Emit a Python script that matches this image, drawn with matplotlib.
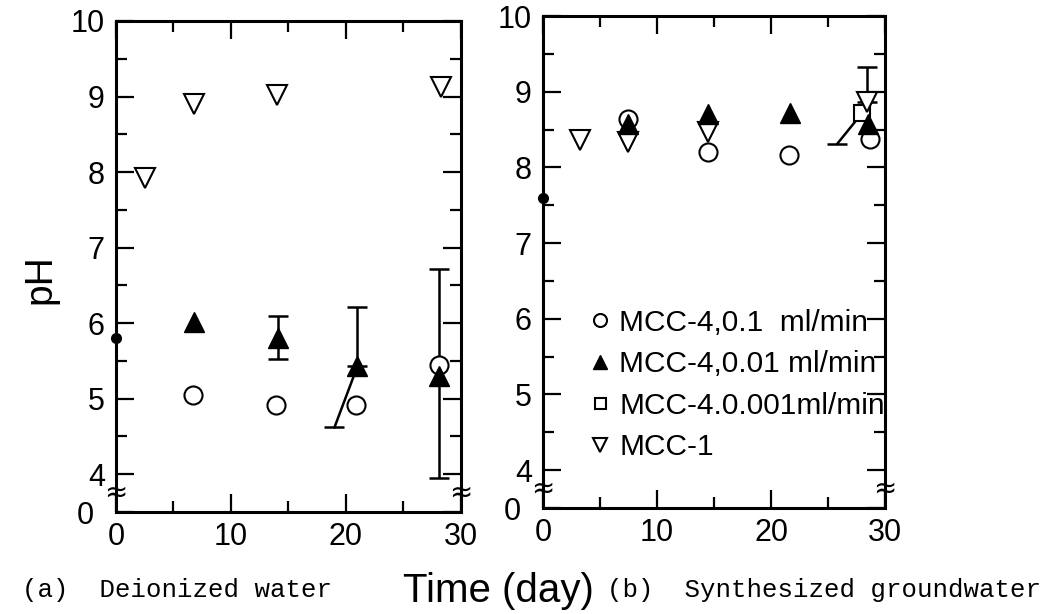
import numpy as np
import matplotlib
matplotlib.use("Agg")
import matplotlib.pyplot as plt
from matplotlib.transforms import ScaledTranslation, blended_transform_factory

# ── Data: (a) deionized water ─────────────────────────────
a_init_day, a_init_ph = [0], [5.8]
a_c01_day = [6.7, 13.9, 20.9, 28.1]          # MCC-4, 0.1 ml/min
a_c01_ph = [5.05, 4.92, 4.92, 5.45]
a_c001_day = [6.75, 14.1, 21.0, 28.1]        # MCC-4, 0.01 ml/min
a_c001_ph = [6.02, 5.8, 5.43, 5.3]
a_err_day = [14.1, 21.0, 28.1]
a_err_lo = [5.53, 5.43, 3.95]
a_err_hi = [6.1, 6.22, 6.72]
a_slant_from = (21.0, 5.43)
a_slant_to = (19.0, 4.62)
a_mcc1_day = [2.55, 6.75, 14.0, 28.3]        # MCC-1
a_mcc1_ph = [7.92, 8.9, 9.02, 9.12]

# ── Data: (b) synthesized groundwater ─────────────────────
b_init_day, b_init_ph = [0], [7.6]
b_c01_day = [7.45, 14.45, 21.6, 28.7]
b_c01_ph = [8.64, 8.2, 8.16, 8.38]
b_c001_day = [7.45, 14.45, 21.7, 28.5]
b_c001_ph = [8.58, 8.7, 8.72, 8.58]
b_c0001_day = [28.0]                          # MCC-4, 0.001 ml/min
b_c0001_ph = [8.72]
b_mcc1_day = [3.25, 7.45, 14.45, 28.4]
b_mcc1_ph = [8.36, 8.33, 8.47, 8.87]
b_err_day = [28.4]
b_err_lo = [8.87]
b_err_hi = [9.32]
b_slant_from = (28.0, 8.72)
b_slant_to = (25.8, 8.31)

labels = ["MCC-4,0.1  ml/min", "MCC-4,0.01 ml/min", "MCC-4.0.001ml/min", "MCC-1"]
yticks = [3.5, 4, 5, 6, 7, 8, 9, 10]
ytick_labels = ["0", "4", "5", "6", "7", "8", "9", "10"]

SANS = "Liberation Sans"
MONO = "Liberation Mono"

fig = plt.figure(figsize=(10.57, 6.14), dpi=100)
ax_a = fig.add_axes([0.1097, 0.1661, 0.3264, 0.7997])
ax_b = fig.add_axes([0.5137, 0.1726, 0.3236, 0.8013])

open_kw = dict(ls="none", mfc="white", mec="black", mew=1.5)
fill_kw = dict(ls="none", mfc="black", mec="black")


def style_axis(ax):
    ax.set_xlim(0, 30)
    ax.set_ylim(3.5, 10)
    ax.set_xticks([0, 10, 20, 30])
    ax.set_xticks([5, 15, 25], minor=True)
    ax.set_yticks(yticks)
    ax.set_yticks(np.arange(4.5, 10, 1.0), minor=True)
    ax.set_yticklabels(ytick_labels)
    ax.tick_params(which="both", direction="in", top=True, right=True, width=1.6)
    ax.tick_params(which="major", length=13)
    ax.tick_params(which="minor", length=8)
    ax.tick_params(axis="x", pad=7)
    ax.tick_params(axis="y", pad=8)
    for lab in ax.get_xticklabels() + ax.get_yticklabels():
        lab.set_fontfamily(SANS)
        lab.set_fontsize(22)
    first = ax.get_yticklabels()[0]
    first.set_transform(first.get_transform() + ScaledTranslation(-8 / 72, 0, fig.dpi_scale_trans))
    for s in ax.spines.values():
        s.set_linewidth(2.2)
    # axis break marks
    tr = blended_transform_factory(ax.transAxes, ax.transData)
    for xs in (0, 1):
        ax.text(xs, 3.76, "\u2248", transform=tr, ha="center", va="center",
                fontsize=20, family="DejaVu Sans", clip_on=False)


def slant(ax, p0, p1):
    ax.plot([p0[0], p1[0]], [p0[1], p1[1]], color="black", lw=1.8, zorder=2)
    ax.plot([p1[0]], [p1[1]], marker="_", ms=15, mew=1.8, color="black", ls="none", zorder=2)


# (a)
ax_a.errorbar(a_err_day, a_c001_ph[1:], yerr=[np.array(a_c001_ph[1:]) - a_err_lo,
              np.array(a_err_hi) - a_c001_ph[1:]], fmt="none", ecolor="black",
              elinewidth=1.8, capsize=7, capthick=1.8, zorder=2)
slant(ax_a, a_slant_from, a_slant_to)
ax_a.plot(a_init_day, a_init_ph, marker="o", ms=7, color="black", ls="none", clip_on=False, zorder=4)
ax_a.plot(a_c01_day, a_c01_ph, marker="o", ms=13, zorder=3, **open_kw)
ax_a.plot(a_c001_day, a_c001_ph, marker="^", ms=14, zorder=4, **fill_kw)
ax_a.plot(a_mcc1_day, a_mcc1_ph, marker="v", ms=14, zorder=3, **open_kw)
style_axis(ax_a)

# (b)
ax_b.errorbar(b_err_day, b_err_lo, yerr=[[0], np.array(b_err_hi) - b_err_lo], fmt="none",
              ecolor="black", elinewidth=1.8, capsize=7, capthick=1.8, zorder=2)
slant(ax_b, b_slant_from, b_slant_to)
ax_b.plot(b_init_day, b_init_ph, marker="o", ms=7, color="black", ls="none", clip_on=False, zorder=4)
h1, = ax_b.plot(b_c01_day, b_c01_ph, marker="o", ms=13, zorder=3, label=labels[0], **open_kw)
h3, = ax_b.plot(b_c0001_day, b_c0001_ph, marker="s", ms=11, zorder=3, label=labels[2], **open_kw)
h4, = ax_b.plot(b_mcc1_day, b_mcc1_ph, marker="v", ms=14, zorder=3.5, label=labels[3], **open_kw)
h2, = ax_b.plot(b_c001_day, b_c001_ph, marker="^", ms=14, zorder=4, label=labels[1], **fill_kw)
style_axis(ax_b)

leg = ax_b.legend([h1, h2, h3, h4], labels, loc="upper left", bbox_to_anchor=(0.135, 0.405),
                  frameon=False, prop={"family": SANS, "size": 21.5}, markerscale=0.72,
                  handlelength=0.7, handletextpad=0.3, labelspacing=0.45, borderpad=0,
                  borderaxespad=0)

# ── Labels ─────────────────────────────────────────────────
fig.text(0.038, 0.545, "pH", rotation=90, ha="center", va="center", family=SANS, fontsize=28)
fig.text(0.381, 0.02, "Time (day)", ha="left", va="baseline", family=SANS, fontsize=29)
fig.text(0.021, 0.027, "(a)  Deionized water", ha="left", va="baseline", family=MONO, fontsize=18.5)
fig.text(0.574, 0.027, "(b)  Synthesized groundwater", ha="left", va="baseline", family=MONO, fontsize=18.5)

plt.savefig("out.png", dpi=100)
